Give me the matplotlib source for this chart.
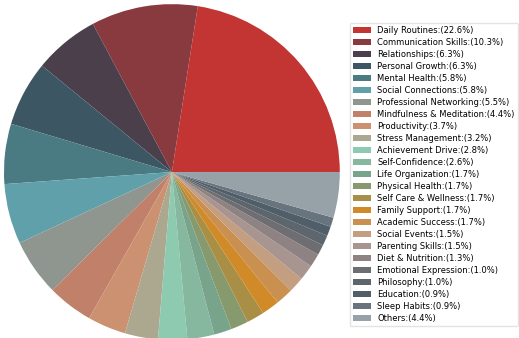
import matplotlib
matplotlib.use("Agg")
import matplotlib.pyplot as plt

# data
labels = ["Daily Routines", "Communication Skills", "Relationships", "Personal Growth",
          "Mental Health", "Social Connections", "Professional Networking",
          "Mindfulness & Meditation", "Productivity", "Stress Management",
          "Achievement Drive", "Self-Confidence", "Life Organization", "Physical Health",
          "Self Care & Wellness", "Family Support", "Academic Success", "Social Events",
          "Parenting Skills", "Diet & Nutrition", "Emotional Expression", "Philosophy",
          "Education", "Sleep Habits", "Others"]
values = [22.6, 10.3, 6.3, 6.3, 5.8, 5.8, 5.5, 4.4, 3.7, 3.2, 2.8, 2.6, 1.7, 1.7,
          1.7, 1.7, 1.7, 1.5, 1.5, 1.3, 1.0, 1.0, 0.9, 0.9, 4.4]
colors = ["#c23532", "#883a3f", "#4b3f4c", "#3c5763", "#4a7a82", "#5fa0aa", "#8f9690",
          "#c0806a", "#cc9170", "#aca890", "#8ecab0", "#85b89e", "#78a48c", "#879a6e",
          "#a98f45", "#d08a28", "#c99050", "#c49e80", "#a89590", "#8e8282", "#6e6e72",
          "#5e666d", "#4f5e68", "#67737d", "#96a2a8"]

fig = plt.figure(figsize=(5.19, 3.38), dpi=100)
ax = fig.add_axes([0.0077, -0.006, 0.647, 0.994])

wedges, _ = ax.pie(values, colors=colors, startangle=0, counterclock=True,
                   wedgeprops=dict(linewidth=0))
ax.set_xlim(-1, 1)
ax.set_ylim(-1, 1)
ax.set_aspect("equal")

leg_labels = [f"{l}:({v}%)" for l, v in zip(labels, values)]
fig.legend(wedges, leg_labels, loc="upper left", bbox_to_anchor=(0.674, 0.933),
           borderaxespad=0, fontsize=6.0, frameon=True, handlelength=2.1,
           handleheight=0.7, handletextpad=0.8, labelspacing=0.36, borderpad=0.4,
           edgecolor="#dddddd")

fig.savefig("out.png", dpi=100)
